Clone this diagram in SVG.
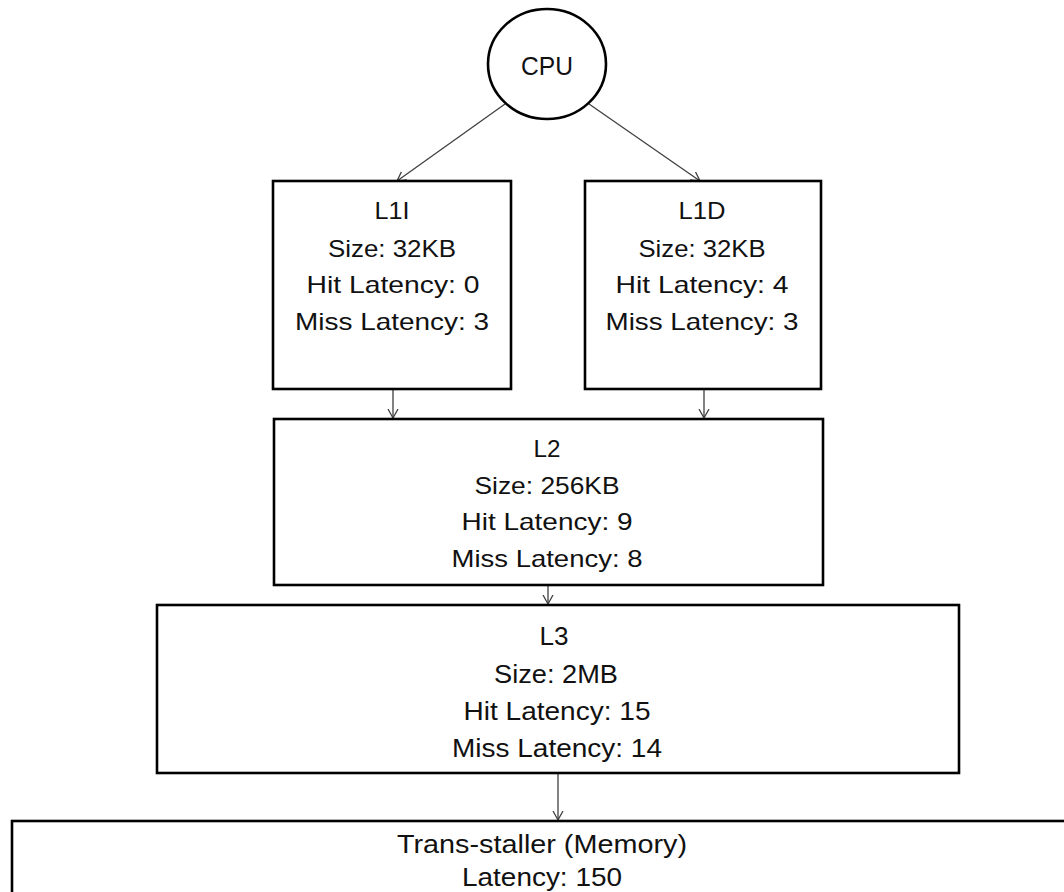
<svg xmlns="http://www.w3.org/2000/svg" width="1064" height="892" viewBox="0 0 1064 892">
  <style>
    .box { fill: #ffffff; stroke: #000000; stroke-width: 2.6; }
    .t { font-family: "Liberation Sans", Arial, sans-serif; fill: #111111; text-anchor: middle; }
    .conn { stroke: #404040; stroke-width: 1.3; fill: none; }
  </style>
  <defs>
    <marker id="arr" markerUnits="userSpaceOnUse" markerWidth="12" markerHeight="12" refX="9" refY="5.5" orient="auto">
      <path d="M0,0.5 L9,5.5 L0,10.5" fill="none" stroke="#404040" stroke-width="1.3"/>
    </marker>
  </defs>
  <rect x="0" y="0" width="1064" height="892" fill="#ffffff"/>

  <g id="connectors">
    <line class="conn" x1="505" y1="104" x2="397" y2="181" marker-end="url(#arr)"/>
    <line class="conn" x1="589" y1="104" x2="700" y2="181" marker-end="url(#arr)"/>
    <line class="conn" x1="393" y1="390" x2="393" y2="418" marker-end="url(#arr)"/>
    <line class="conn" x1="704" y1="390" x2="704" y2="418" marker-end="url(#arr)"/>
    <line class="conn" x1="548" y1="586" x2="548" y2="604" marker-end="url(#arr)"/>
    <line class="conn" x1="558" y1="773" x2="558" y2="820" marker-end="url(#arr)"/>
  </g>

  <g id="cpu">
    <ellipse class="box" cx="547" cy="64" rx="59" ry="55"/>
    <text class="t" x="547" y="75" font-size="26" textLength="52" lengthAdjust="spacingAndGlyphs">CPU</text>
  </g>

  <g id="l1i">
    <rect class="box" x="273" y="181" width="238" height="208"/>
    <text class="t" x="392" y="219" font-size="24" textLength="35" lengthAdjust="spacingAndGlyphs">L1I</text>
    <text class="t" x="392" y="257" font-size="24" textLength="128" lengthAdjust="spacingAndGlyphs">Size: 32KB</text>
    <text class="t" x="393" y="293" font-size="24" textLength="173" lengthAdjust="spacingAndGlyphs">Hit Latency: 0</text>
    <text class="t" x="392" y="330" font-size="24" textLength="194" lengthAdjust="spacingAndGlyphs">Miss Latency: 3</text>
  </g>

  <g id="l1d">
    <rect class="box" x="585" y="181" width="236" height="208"/>
    <text class="t" x="702" y="219" font-size="24" textLength="47" lengthAdjust="spacingAndGlyphs">L1D</text>
    <text class="t" x="702" y="257" font-size="24" textLength="127" lengthAdjust="spacingAndGlyphs">Size: 32KB</text>
    <text class="t" x="702" y="293" font-size="24" textLength="173" lengthAdjust="spacingAndGlyphs">Hit Latency: 4</text>
    <text class="t" x="702" y="330" font-size="24" textLength="193" lengthAdjust="spacingAndGlyphs">Miss Latency: 3</text>
  </g>

  <g id="l2">
    <rect class="box" x="274" y="419" width="549" height="166"/>
    <text class="t" x="547" y="457" font-size="24" textLength="27" lengthAdjust="spacingAndGlyphs">L2</text>
    <text class="t" x="547" y="494" font-size="24" textLength="145" lengthAdjust="spacingAndGlyphs">Size: 256KB</text>
    <text class="t" x="547" y="530" font-size="24" textLength="171" lengthAdjust="spacingAndGlyphs">Hit Latency: 9</text>
    <text class="t" x="547" y="567" font-size="24" textLength="191" lengthAdjust="spacingAndGlyphs">Miss Latency: 8</text>
  </g>

  <g id="l3">
    <rect class="box" x="157" y="605" width="802" height="168"/>
    <text class="t" x="554" y="645" font-size="25" textLength="29" lengthAdjust="spacingAndGlyphs">L3</text>
    <text class="t" x="556" y="683" font-size="25" textLength="124" lengthAdjust="spacingAndGlyphs">Size: 2MB</text>
    <text class="t" x="557" y="720" font-size="25" textLength="187" lengthAdjust="spacingAndGlyphs">Hit Latency: 15</text>
    <text class="t" x="557" y="757" font-size="25" textLength="210" lengthAdjust="spacingAndGlyphs">Miss Latency: 14</text>
  </g>

  <g id="memory">
    <rect class="box" x="12" y="821" width="1070" height="100"/>
    <text class="t" x="542" y="853" font-size="26" textLength="290" lengthAdjust="spacingAndGlyphs">Trans-staller (Memory)</text>
    <text class="t" x="542" y="886" font-size="25" textLength="160" lengthAdjust="spacingAndGlyphs">Latency: 150</text>
  </g>
</svg>
